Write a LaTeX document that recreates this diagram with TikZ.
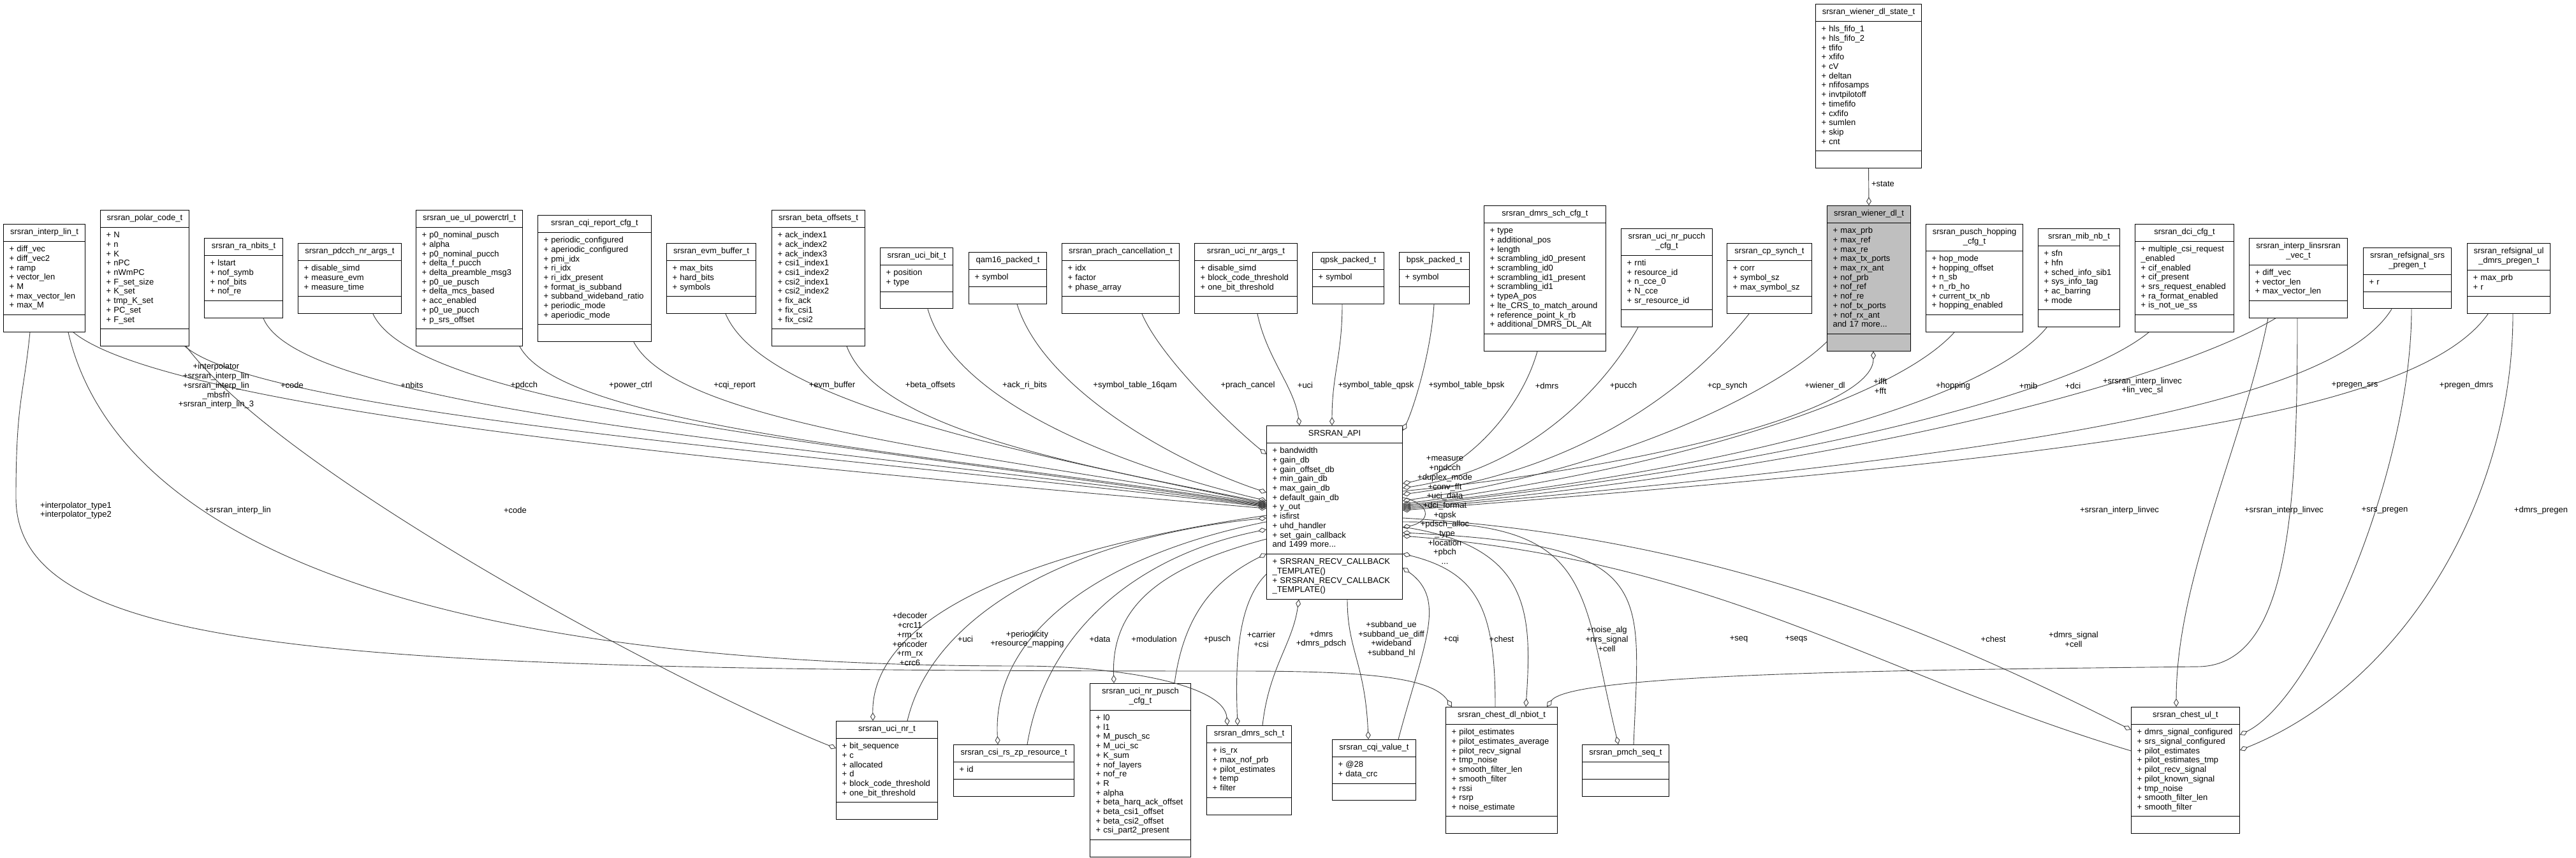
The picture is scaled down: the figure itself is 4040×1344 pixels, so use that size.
\documentclass[tikz,border=0pt]{standalone}
\usepackage{fontspec}
\setmainfont{Liberation Sans}
\usetikzlibrary{arrows.meta,calc,shapes.multipart}
\definecolor{edgegrey}{HTML}{404040}
\definecolor{selgrey}{HTML}{BFBFBF}
\newcommand{\ctr}[1]{\hfill\strut#1\hfill\null}

\begin{document}
\begin{tikzpicture}[x=1pt, y=-1pt,
  cls/.style={draw=black, line width=1pt, fill=white, anchor=north west,
              rectangle split, rectangle split parts=3,
              inner xsep=9pt, inner ysep=5.6pt, align=left,
              font=\fontsize{13}{14.7}\selectfont},
  link/.style={draw=edgegrey, line width=0.9pt},
  agg/.style={link, {Diamond[open, length=13pt, width=8pt]}-},
  tag/.style={font=\fontsize{13}{14.7}\selectfont, align=center, inner sep=0pt},
]
\fill[white] (0,0) rectangle (4040,1344);
\useasboundingbox (0,0) rectangle (4040,1344);

% ---------------- top row, left of SRSRAN_API ----------------------
\node[cls, text width=110pt] (interplin) at (5,351)
  {\ctr{srsran\_interp\_lin\_t}
   \nodepart{two}\strut+~diff\_vec\\+~diff\_vec2\\+~ramp\\+~vector\_len\\+~M\\+~max\_vector\_len\\+~max\_M\strut
   \nodepart{three}\strut};
\node[cls, text width=121pt] (polarcode) at (157,329)
  {\ctr{srsran\_polar\_code\_t}
   \nodepart{two}\strut+~N\\+~n\\+~K\\+~nPC\\+~nWmPC\\+~F\_set\_size\\+~K\_set\\+~tmp\_K\_set\\+~PC\_set\\+~F\_set\strut
   \nodepart{three}\strut};
\node[cls, text width=105pt] (ranbits) at (320,373)
  {\ctr{srsran\_ra\_nbits\_t}
   \nodepart{two}\strut+~lstart\\+~nof\_symb\\+~nof\_bits\\+~nof\_re\strut
   \nodepart{three}\strut};
\node[cls, text width=144pt] (pdcchargs) at (467,381)
  {\ctr{srsran\_pdcch\_nr\_args\_t}
   \nodepart{two}\strut+~disable\_simd\\+~measure\_evm\\+~measure\_time\strut
   \nodepart{three}\strut};
\node[cls, text width=149pt] (ulpowerctrl) at (652,329)
  {\ctr{srsran\_ue\_ul\_powerctrl\_t}
   \nodepart{two}\strut+~p0\_nominal\_pusch\\+~alpha\\+~p0\_nominal\_pucch\\+~delta\_f\_pucch\\+~delta\_preamble\_msg3\\+~p0\_ue\_pusch\\+~delta\_mcs\_based\\+~acc\_enabled\\+~p0\_ue\_pucch\\+~p\_srs\_offset\strut
   \nodepart{three}\strut};
\node[cls, text width=160pt] (cqireport) at (843,337)
  {\ctr{srsran\_cqi\_report\_cfg\_t}
   \nodepart{two}\strut+~periodic\_configured\\+~aperiodic\_configured\\+~pmi\_idx\\+~ri\_idx\\+~ri\_idx\_present\\+~format\_is\_subband\\+~subband\_wideband\_ratio\\+~periodic\_mode\\+~aperiodic\_mode\strut
   \nodepart{three}\strut};
\node[cls, text width=122pt] (evmbuffer) at (1045,381)
  {\ctr{srsran\_evm\_buffer\_t}
   \nodepart{two}\strut+~max\_bits\\+~hard\_bits\\+~symbols\strut
   \nodepart{three}\strut};
\node[cls, text width=128pt] (betaoffsets) at (1210,329)
  {\ctr{srsran\_beta\_offsets\_t}
   \nodepart{two}\strut+~ack\_index1\\+~ack\_index2\\+~ack\_index3\\+~csi1\_index1\\+~csi1\_index2\\+~csi2\_index1\\+~csi2\_index2\\+~fix\_ack\\+~fix\_csi1\\+~fix\_csi2\strut
   \nodepart{three}\strut};
\node[cls, text width=96pt] (ucibit) at (1380,388)
  {\ctr{srsran\_uci\_bit\_t}
   \nodepart{two}\strut+~position\\+~type\strut
   \nodepart{three}\strut};
\node[cls, text width=104pt] (qamsixteen) at (1519,395)
  {\ctr{qam16\_packed\_t}
   \nodepart{two}\strut+~symbol\strut
   \nodepart{three}\strut};
\node[cls, text width=166pt] (prachcancel) at (1665,381)
  {\ctr{srsran\_prach\_cancellation\_t}
   \nodepart{two}\strut+~idx\\+~factor\\+~phase\_array\strut
   \nodepart{three}\strut};
\node[cls, text width=143pt] (ucinrargs) at (1873,381)
  {\ctr{srsran\_uci\_nr\_args\_t}
   \nodepart{two}\strut+~disable\_simd\\+~block\_code\_threshold\\+~one\_bit\_threshold\strut
   \nodepart{three}\strut};
\node[cls, text width=94pt] (qpskpacked) at (2058,395)
  {\ctr{qpsk\_packed\_t}
   \nodepart{two}\strut+~symbol\strut
   \nodepart{three}\strut};

% ---------------- top row, right of SRSRAN_API ---------------------
\node[cls, text width=92pt] (bpskpacked) at (2194,395)
  {\ctr{bpsk\_packed\_t}
   \nodepart{two}\strut+~symbol\strut
   \nodepart{three}\strut};
\node[cls, text width=173pt] (dmrsschcfg) at (2327,322)
  {\ctr{srsran\_dmrs\_sch\_cfg\_t}
   \nodepart{two}\strut+~type\\+~additional\_pos\\+~length\\+~scrambling\_id0\_present\\+~scrambling\_id0\\+~scrambling\_id1\_present\\+~scrambling\_id1\\+~typeA\_pos\\+~lte\_CRS\_to\_match\_around\\+~reference\_point\_k\_rb\\+~additional\_DMRS\_DL\_Alt\strut
   \nodepart{three}\strut};
\node[cls, text width=125pt] (ucinrpucch) at (2542,358)
  {\ctr{srsran\_uci\_nr\_pucch}\\\ctr{\_cfg\_t}
   \nodepart{two}\strut+~rnti\\+~resource\_id\\+~n\_cce\_0\\+~N\_cce\\+~sr\_resource\_id\strut
   \nodepart{three}\strut};
\node[cls, text width=115pt] (cpsynch) at (2708,381)
  {\ctr{srsran\_cp\_synch\_t}
   \nodepart{two}\strut+~corr\\+~symbol\_sz\\+~max\_symbol\_sz\strut
   \nodepart{three}\strut};
\node[cls, text width=148pt] (wienerstate) at (2847,6)
  {\ctr{srsran\_wiener\_dl\_state\_t}
   \nodepart{two}\strut+~hls\_fifo\_1\\+~hls\_fifo\_2\\+~tfifo\\+~xfifo\\+~cV\\+~deltan\\+~nfifosamps\\+~invtpilotoff\\+~timefifo\\+~cxfifo\\+~sumlen\\+~skip\\+~cnt\strut
   \nodepart{three}\strut};
\node[cls, fill=selgrey, text width=113pt] (wienerdl) at (2865,322)
  {\ctr{srsran\_wiener\_dl\_t}
   \nodepart{two}\strut+~max\_prb\\+~max\_ref\\+~max\_re\\+~max\_tx\_ports\\+~max\_rx\_ant\\+~nof\_prb\\+~nof\_ref\\+~nof\_re\\+~nof\_tx\_ports\\+~nof\_rx\_ant\\and 17 more...\strut
   \nodepart{three}\strut};
\node[cls, text width=134pt] (puschhopping) at (3020,351)
  {\ctr{srsran\_pusch\_hopping}\\\ctr{\_cfg\_t}
   \nodepart{two}\strut+~hop\_mode\\+~hopping\_offset\\+~n\_sb\\+~n\_rb\_ho\\+~current\_tx\_nb\\+~hopping\_enabled\strut
   \nodepart{three}\strut};
\node[cls, text width=110pt] (mibnb) at (3196,358)
  {\ctr{srsran\_mib\_nb\_t}
   \nodepart{two}\strut+~sfn\\+~hfn\\+~sched\_info\_sib1\\+~sys\_info\_tag\\+~ac\_barring\\+~mode\strut
   \nodepart{three}\strut};
\node[cls, text width=137pt] (dcicfg) at (3348,351)
  {\ctr{srsran\_dci\_cfg\_t}
   \nodepart{two}\strut+~multiple\_csi\_request\\\_enabled\\+~cif\_enabled\\+~cif\_present\\+~srs\_request\_enabled\\+~ra\_format\_enabled\\+~is\_not\_ue\_ss\strut
   \nodepart{three}\strut};
\node[cls, text width=136pt] (interplinvec) at (3527,373)
  {\ctr{srsran\_interp\_linsrsran}\\\ctr{\_vec\_t}
   \nodepart{two}\strut+~diff\_vec\\+~vector\_len\\+~max\_vector\_len\strut
   \nodepart{three}\strut};
\node[cls, text width=120pt] (srspregen) at (3706,388)
  {\ctr{srsran\_refsignal\_srs}\\\ctr{\_pregen\_t}
   \nodepart{two}\strut+~r\strut
   \nodepart{three}\strut};
\node[cls, text width=112pt] (dmrspregen) at (3869,381)
  {\ctr{srsran\_refsignal\_ul}\\\ctr{\_dmrs\_pregen\_t}
   \nodepart{two}\strut+~max\_prb\\+~r\strut
   \nodepart{three}\strut};

% ---------------- the central struct -------------------------------
\node[cls, text width=195pt] (api) at (1986,667)
  {\ctr{SRSRAN\_API}
   \nodepart{two}\strut+~bandwidth\\+~gain\_db\\+~gain\_offset\_db\\+~min\_gain\_db\\+~max\_gain\_db\\+~default\_gain\_db\\+~y\_out\\+~isfirst\\+~uhd\_handler\\+~set\_gain\_callback\\and 1499 more...\strut
   \nodepart{three}\strut+~SRSRAN\_RECV\_CALLBACK\\\_TEMPLATE()\\+~SRSRAN\_RECV\_CALLBACK\\\_TEMPLATE()\strut};

% ---------------- bottom row ---------------------------------------
\node[cls, text width=141pt] (ucinr) at (1311,1130)
  {\ctr{srsran\_uci\_nr\_t}
   \nodepart{two}\strut+~bit\_sequence\\+~c\\+~allocated\\+~d\\+~block\_code\_threshold\\+~one\_bit\_threshold\strut
   \nodepart{three}\strut};
\node[cls, text width=171pt] (csizp) at (1495,1167)
  {\ctr{srsran\_csi\_rs\_zp\_resource\_t}
   \nodepart{two}\strut+~id\strut
   \nodepart{three}\strut};
\node[cls, text width=140pt] (ucinrpusch) at (1709,1071)
  {\ctr{srsran\_uci\_nr\_pusch}\\\ctr{\_cfg\_t}
   \nodepart{two}\strut+~l0\\+~l1\\+~M\_pusch\_sc\\+~M\_uci\_sc\\+~K\_sum\\+~nof\_layers\\+~nof\_re\\+~R\\+~alpha\\+~beta\_harq\_ack\_offset\\+~beta\_csi1\_offset\\+~beta\_csi2\_offset\\+~csi\_part2\_present\strut
   \nodepart{three}\strut};
\node[cls, text width=115pt] (dmrssch) at (1892,1137)
  {\ctr{srsran\_dmrs\_sch\_t}
   \nodepart{two}\strut+~is\_rx\\+~max\_nof\_prb\\+~pilot\_estimates\\+~temp\\+~filter\strut
   \nodepart{three}\strut};
\node[cls, text width=113pt] (cqivalue) at (2089,1159)
  {\ctr{srsran\_cqi\_value\_t}
   \nodepart{two}\strut+~@28\\+~data\_crc\strut
   \nodepart{three}\strut};
\node[cls, text width=157pt] (chestnbiot) at (2267,1108)
  {\ctr{srsran\_chest\_dl\_nbiot\_t}
   \nodepart{two}\strut+~pilot\_estimates\\+~pilot\_estimates\_average\\+~pilot\_recv\_signal\\+~tmp\_noise\\+~smooth\_filter\_len\\+~smooth\_filter\\+~rssi\\+~rsrp\\+~noise\_estimate\strut
   \nodepart{three}\strut};
\node[cls, text width=118pt] (pmchseq) at (2481,1167)
  {\ctr{srsran\_pmch\_seq\_t}
   \nodepart{two}\strut
   \nodepart{three}\strut};
\node[cls, text width=152pt] (chestul) at (3342,1108)
  {\ctr{srsran\_chest\_ul\_t}
   \nodepart{two}\strut+~dmrs\_signal\_configured\\+~srs\_signal\_configured\\+~pilot\_estimates\\+~pilot\_estimates\_tmp\\+~pilot\_recv\_signal\\+~pilot\_known\_signal\\+~tmp\_noise\\+~smooth\_filter\_len\\+~smooth\_filter\strut
   \nodepart{three}\strut};

% ---------------- members of SRSRAN_API, upper left ----------------
\draw[agg] ($(api.north west)+(0,130)$) .. controls +(-700,-60) and +(160,130) .. ($(interplin.south west)+(110,0)$);
\draw[agg] ($(api.north west)+(0,128)$) .. controls +(-650,-80) and +(130,110) .. ($(polarcode.south west)+(133,0)$);
\draw[agg] ($(api.north west)+(0,127)$) .. controls +(-650,-90) and +(60,150) .. ($(ranbits.south west)+(93,0)$);
\draw[agg] ($(api.north west)+(0,126)$) .. controls +(-600,-90) and +(70,150) .. ($(pdcchargs.south west)+(118,0)$);
\draw[agg] ($(api.north west)+(0,125)$) .. controls +(-500,-80) and +(70,130) .. ($(ulpowerctrl.south west)+(163,0)$);
\draw[agg] ($(api.north west)+(0,124)$) .. controls +(-450,-80) and +(70,130) .. ($(cqireport.south west)+(151,0)$);
\draw[agg] ($(api.north west)+(0,123)$) .. controls +(-380,-80) and +(60,140) .. ($(evmbuffer.south west)+(93,0)$);
\draw[agg] ($(api.north west)+(0,121)$) .. controls +(-300,-60) and +(50,130) .. ($(betaoffsets.south west)+(118,0)$);
\draw[agg] ($(api.north west)+(0,118)$) .. controls +(-250,-60) and +(40,140) .. ($(ucibit.south west)+(75,0)$);
\draw[agg] ($(api.north west)+(0,105)$) .. controls +(-150,-50) and +(40,130) .. ($(qamsixteen.south west)+(76,0)$);
\draw[agg] ($(api.north west)+(0,45)$) .. controls +(-50,-40) and +(30,70) .. ($(prachcancel.south west)+(126,0)$);
\draw[agg] ($(api.north west)+(52,0)$) .. controls +(-8,-60) and +(15,70) .. ($(ucinrargs.south west)+(99,0)$);
\draw[agg] ($(api.north west)+(103,0)$) .. controls +(0,-80) and +(0,80) .. ($(qpskpacked.south west)+(47,0)$);
\draw[agg] ($(api.north east)+(0,8)$) .. controls +(15,-30) and +(-5,80) .. ($(bpskpacked.south west)+(55,0)$);

% ---------------- members of SRSRAN_API, upper right ---------------
\draw[agg] ($(api.north east)+(0,91)$) .. controls +(100,-20) and +(-25,90) .. ($(dmrsschcfg.south west)+(84,0)$);
\draw[agg] ($(api.north east)+(0,98)$) .. controls +(200,-30) and +(-50,90) .. ($(ucinrpucch.south west)+(27,0)$);
\draw[agg] ($(api.north east)+(0,108)$) .. controls +(300,-40) and +(-80,100) .. ($(cpsynch.south west)+(35,0)$);
\draw[agg] ($(api.north east)+(0,118)$) .. controls +(350,-50) and +(-70,70) .. ($(wienerdl.south west)+(0,-15)$);
\draw[agg] ($(wienerdl.south)+(7,0)$) .. controls +(0,90) and +(400,-40) .. ($(api.north east)+(0,103)$);
\draw[agg] ($(api.north east)+(0,123)$) .. controls +(450,-60) and +(-90,100) .. ($(puschhopping.south west)+(45,0)$);
\draw[agg] ($(api.north east)+(0,125)$) .. controls +(550,-60) and +(-90,110) .. ($(mibnb.south west)+(14,0)$);
\draw[agg] ($(api.north east)+(0,127)$) .. controls +(650,-70) and +(-110,90) .. ($(dcicfg.south west)+(22,0)$);
\draw[agg] ($(api.north east)+(0,129)$) .. controls +(750,-70) and +(-150,90) .. ($(interplinvec.south west)+(42,0)$);
\draw[agg] ($(api.north east)+(0,131)$) .. controls +(900,-80) and +(-100,160) .. ($(srspregen.south west)+(45,0)$);
\draw[agg] ($(api.north east)+(0,133)$) .. controls +(1000,-80) and +(-120,170) .. ($(dmrspregen.south west)+(33,0)$);
\draw[agg] (wienerdl.north) -- (wienerstate.south);
\draw[agg] ($(api.north east)+(0,160)$) .. controls +(45,-10) and +(45,10) .. ($(api.north east)+(0,113)$);

% ---------------- lower left --------------------------------------
\draw[agg] ($(ucinr.north west)+(58,0)$) .. controls +(-3,-170) and +(-350,50) .. ($(api.north west)+(0,141)$);
\draw[agg] ($(api.north west)+(0,145)$) .. controls +(-300,30) and +(40,-170) .. ($(ucinr.north west)+(112,0)$);
\draw[agg] ($(csizp.north west)+(70,0)$) .. controls +(-10,-180) and +(-250,50) .. ($(api.north west)+(0,151)$);
\draw[agg] ($(api.north west)+(0,163)$) .. controls +(-200,40) and +(30,-180) .. ($(csizp.north west)+(116,0)$);
\draw[agg] ($(ucinrpusch.north west)+(38,0)$) .. controls +(-5,-130) and +(-150,40) .. ($(api.north west)+(0,178)$);
\draw[agg] ($(api.north west)+(0,201)$) .. controls +(-80,40) and +(15,-110) .. ($(ucinrpusch.north west)+(133,0)$);
\draw[agg] ($(dmrssch.north west)+(49,0)$) .. controls +(-5,-120) and +(-40,40) .. ($(api.north west)+(0,233)$);
\draw[agg] ($(api.south west)+(51,0)$) .. controls +(-10,70) and +(10,-90) .. ($(dmrssch.north west)+(88,0)$);
\draw[agg] ($(dmrssch.north west)+(33,0)$) .. controls +(-5,-65) and +(150,0) .. (1600,1044)
  .. controls +(-1000,0) and +(70,300) .. ($(interplin.south west)+(102,0)$);
\draw[agg] ($(chestnbiot.north west)+(10,0)$) .. controls +(-30,-45) and +(200,0) .. (1950,1052)
  .. controls +(-1400,0) and +(0,250) .. (25,780) .. controls +(0,-150) and +(-10,100) .. ($(interplin.south west)+(42,0)$);
\draw[agg] ($(ucinr.north west)+(0,43)$) .. controls +(-250,-100) and +(150,200) .. ($(polarcode.south east)+(-5,0)$);

% ---------------- lower right --------------------------------------
\draw[agg] ($(cqivalue.north west)+(57,0)$) .. controls +(-5,-120) and +(0,80) .. ($(api.south west)+(127,0)$);
\draw[agg] ($(api.north east)+(0,223)$) .. controls +(70,50) and +(40,-150) .. ($(cqivalue.north west)+(104,0)$);
\draw[agg] ($(api.north east)+(0,201)$) .. controls +(120,30) and +(0,-150) .. ($(chestnbiot.north west)+(78,0)$);
\draw[agg] ($(chestnbiot.north west)+(126,0)$) .. controls +(10,-150) and +(200,30) .. ($(api.north east)+(0,159)$);
\draw[agg] ($(pmchseq.north west)+(57,0)$) .. controls +(-60,-250) and +(300,0) .. ($(api.north east)+(0,151)$);
\draw[agg] ($(api.north east)+(0,168)$) .. controls +(400,20) and +(10,-250) .. ($(pmchseq.north west)+(81,0)$);
\draw[agg] ($(api.north east)+(0,173)$) .. controls +(500,40) and +(-400,-120) .. ($(chestul.north west)+(0,69)$);
\draw[agg] ($(chestul.north west)+(0,36)$) .. controls +(-300,-150) and +(500,30) .. ($(api.north east)+(0,145)$);
\draw[agg] ($(chestul.north west)+(71,0)$) .. controls +(0,-200) and +(-40,200) .. ($(interplinvec.south west)+(30,0)$);
\draw[agg] ($(chestnbiot.north west)+(159,0)$) .. controls +(40,-55) and +(-400,5) .. (3450,1045)
  .. controls +(140,-5) and +(0,300) .. ($(interplinvec.south west)+(76,0)$);
\draw[agg] ($(chestul.north east)+(0,44)$) .. controls +(120,-60) and +(0,250) .. ($(srspregen.south west)+(76,0)$);
\draw[agg] ($(chestul.north east)+(0,68)$) .. controls +(250,-100) and +(0,300) .. ($(dmrspregen.south west)+(72,0)$);

% ---------------- labels -------------------------------------------
\node[tag] (lbinterp) at (339,605) {+interpolator\\+srsran\_interp\_lin\\+srsran\_interp\_lin\\\_mbsfn\\+srsran\_interp\_lin\_3};
\node[tag] (lbcode) at (458,604) {+code};
\node[tag] (lbnbits) at (646,604) {+nbits};
\node[tag] (lbpdcch) at (822,604) {+pdcch};
\node[tag] (lbpower) at (989,604) {+power\_ctrl};
\node[tag] (lbcqirep) at (1152,604) {+cqi\_report};
\node[tag] (lbevm) at (1305,604) {+evm\_buffer};
\node[tag] (lbbeta) at (1459,604) {+beta\_offsets};
\node[tag] (lbackri) at (1607,604) {+ack\_ri\_bits};
\node[tag] (lbqam) at (1780,604) {+symbol\_table\_16qam};
\node[tag] (lbprach) at (1957,604) {+prach\_cancel};
\node[tag] (lbuci) at (2047,604) {+uci};
\node[tag] (lbqpsk) at (2158,604) {+symbol\_table\_qpsk};
\node[tag] (lbbpsk) at (2300,604) {+symbol\_table\_bpsk};
\node[tag] (lbdmrs) at (2426,605) {+dmrs};
\node[tag] (lbpucch) at (2546,605) {+pucch};
\node[tag] (lbcpsynch) at (2709,605) {+cp\_synch};
\node[tag] (lbwiener) at (2862,605) {+wiener\_dl};
\node[tag] (lbfft) at (2949,605) {+ifft\\+fft};
\node[tag] (lbstate) at (2953,288) {+state};
\node[tag] (lbhopping) at (3063,605) {+hopping};
\node[tag] (lbmib) at (3181,605) {+mib};
\node[tag] (lbdci) at (3251,605) {+dci};
\node[tag] (lblinvec) at (3360,605) {+srsran\_interp\_linvec\\+lin\_vec\_sl};
\node[tag] (lbpregensrs) at (3693,604) {+pregen\_srs};
\node[tag] (lbpregendmrs) at (3868,604) {+pregen\_dmrs};
\node[tag] (lbself) at (2266,800) {+measure\\+npdcch\\+duplex\_mode\\+conv\_fft\\+uci\_data\\+dci\_format\\+qpsk\\+pdsch\_alloc\\\_type\\+location\\+pbch\\...};
\node[tag] (lbtype) at (119,800) {+interpolator\_type1\\+interpolator\_type2};
\node[tag] (lbinterplin) at (373,800) {+srsran\_interp\_lin};
\node[tag] (lbcodeb) at (808,800) {+code};
\node[tag] (lblinvecul) at (3324,800) {+srsran\_interp\_linvec};
\node[tag] (lblinvecdl) at (3582,800) {+srsran\_interp\_linvec};
\node[tag] (lbsrspregen) at (3740,800) {+srs\_pregen};
\node[tag] (lbdmrspregen) at (3985,800) {+dmrs\_pregen};
\node[tag] (lbdecoder) at (1427,1002) {+decoder\\+crc11\\+rm\_tx\\+encoder\\+rm\_rx\\+crc6};
\node[tag] (lbucib) at (1514,1002) {+uci};
\node[tag] (lbperiod) at (1611,1002) {+periodicity\\+resource\_mapping};
\node[tag] (lbdata) at (1725,1002) {+data};
\node[tag] (lbmod) at (1810,1002) {+modulation};
\node[tag] (lbpusch) at (1909,1002) {+pusch};
\node[tag] (lbcarrier) at (1978,1002) {+carrier\\+csi};
\node[tag] (lbdmrsb) at (2072,1002) {+dmrs\\+dmrs\_pdsch};
\node[tag] (lbsubband) at (2182,1002) {+subband\_ue\\+subband\_ue\_diff\\+wideband\\+subband\_hl};
\node[tag] (lbcqi) at (2276,1002) {+cqi};
\node[tag] (lbchest) at (2355,1002) {+chest};
\node[tag] (lbnoise) at (2520,1002) {+noise\_alg\\+nrs\_signal\\+cell};
\node[tag] (lbseq) at (2727,1002) {+seq};
\node[tag] (lbseqs) at (2817,1002) {+seqs};
\node[tag] (lbchestul) at (3126,1002) {+chest};
\node[tag] (lbcell) at (3252,1002) {+dmrs\_signal\\+cell};

\end{tikzpicture}
\end{document}
